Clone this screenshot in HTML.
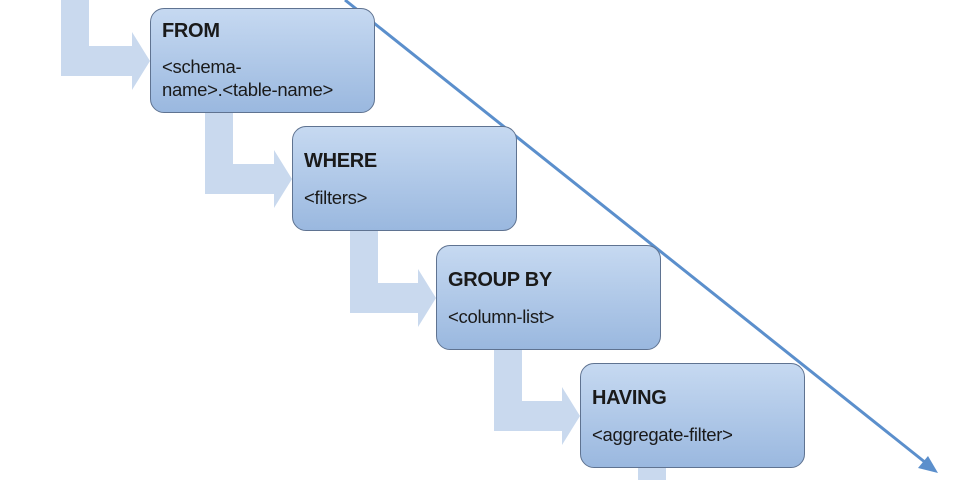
<!DOCTYPE html>
<html><head><style>
html,body{margin:0;padding:0;background:#fff;width:960px;height:480px;overflow:hidden}
.box{position:absolute;width:225px;height:105px;border:1px solid #5f7391;border-radius:14px;background:linear-gradient(#c6d9f1,#9ab8df);box-sizing:border-box;font-family:"Liberation Sans",sans-serif;color:#1a1a1a}
.t{position:absolute;left:11px;top:8px;font-weight:bold;font-size:20px;line-height:24px;letter-spacing:-0.3px}
.s{position:absolute;left:11px;top:46px;font-size:18.5px;line-height:23px;letter-spacing:-0.3px}
</style></head><body>
<svg width="960" height="480" style="position:absolute;left:0;top:0">
<g fill="#c9d9ee">
<path d="M61 0 H89 V46 H132 V32 L150 61 L132 90 V76 H61 Z"/>
<path d="M205 112 H233 V164 H274 V150 L292 179 L274 208 V194 H205 Z"/>
<path d="M350 231 H378 V283 H418 V269 L436 298 L418 327 V313 H350 Z"/>
<path d="M494 350 H522 V401 H562 V387 L580 416 L562 445 V431 H494 Z"/>
<rect x="638" y="468" width="28" height="12"/>
</g>
<line x1="345" y1="0" x2="926" y2="463" stroke="#5b8fcc" stroke-width="3"/>
<path d="M938 473 L918 468 L928 456 Z" fill="#5b8fcc"/>
</svg>
<div class="box" style="left:150px;top:8px"><div class="t" style="top:10px">FROM</div><div class="s" style="top:46px">&lt;schema-<br>name&gt;.&lt;table-name&gt;</div></div>
<div class="box" style="left:292px;top:126px"><div class="t" style="top:22px">WHERE</div><div class="s" style="top:59px">&lt;filters&gt;</div></div>
<div class="box" style="left:436px;top:245px"><div class="t" style="top:22px">GROUP BY</div><div class="s" style="top:59px">&lt;column-list&gt;</div></div>
<div class="box" style="left:580px;top:363px"><div class="t" style="top:22px">HAVING</div><div class="s" style="top:59px">&lt;aggregate-filter&gt;</div></div>
</body></html>
